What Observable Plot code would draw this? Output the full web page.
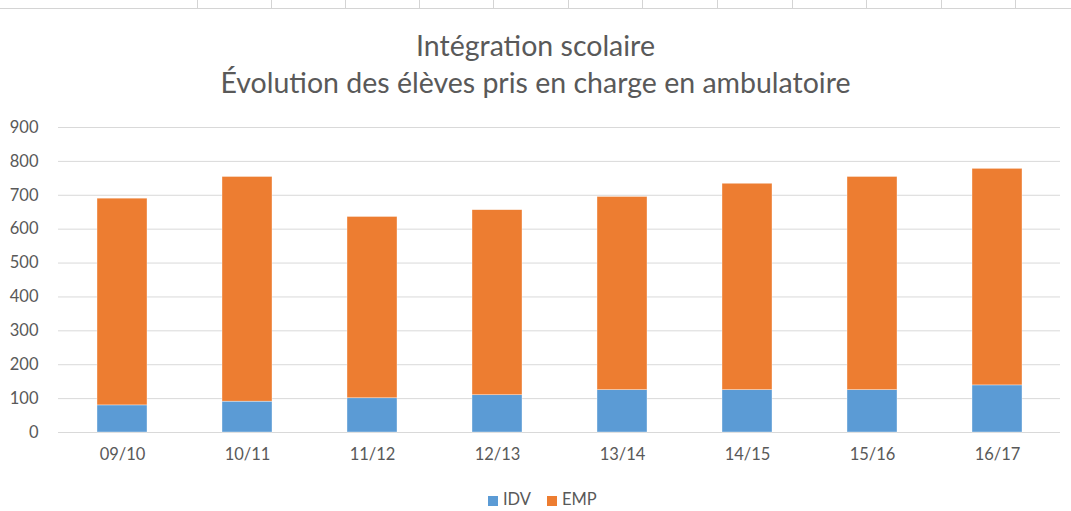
<!DOCTYPE html>
<html><head><meta charset="utf-8">
<script src="https://cdn.jsdelivr.net/npm/d3@7"></script>
<script src="https://cdn.jsdelivr.net/npm/@observablehq/plot@0.6"></script>
<style>
body{margin:0;background:#fff;font-family:Lato,"Open Sans",sans-serif;}
#wrap{position:relative;width:1071px;height:511px;overflow:hidden;}
#strip{position:absolute;left:0;top:0;width:1071px;height:8px;border-bottom:1px solid #d4d4d4;}
.vl{position:absolute;top:0;width:1px;height:8px;background:#d4d4d4;}
#title{position:absolute;left:0;top:27px;width:1071px;text-align:center;color:#595959;font-size:28.5px;line-height:37px;}
#chart{position:absolute;left:0;top:100px;}
#legend{position:absolute;top:489px;left:0;width:1071px;height:22px;font-size:16.5px;color:#595959;}
.sw{position:absolute;width:10px;height:10px;top:7px;}
.lt{position:absolute;top:0px;}
</style></head>
<body><div id="wrap">
<div id="strip"></div>
<div id="title">Intégration scolaire<br>Évolution des élèves pris en charge en ambulatoire</div>
<div id="chart"></div>
<div id="legend">
<div class="sw" style="left:488px;background:#5B9BD5"></div><div class="lt" style="left:503px">IDV</div>
<div class="sw" style="left:547px;background:#ED7D31"></div><div class="lt" style="left:562px">EMP</div>
</div>
</div>
<script>
const years = ["09/10","10/11","11/12","12/13","13/14","14/15","15/16","16/17"];
const idv = [80, 91, 101, 110, 125, 125, 125, 139];
const emp = [610, 663, 535, 546, 570, 609, 629, 639];
const seriesNames = ["IDV","EMP"];
const seriesColors = ["#5B9BD5","#ED7D31"];
const yTicks = [0,100,200,300,400,500,600,700,800,900];

const strip = document.getElementById("strip");
[197,271,345,419,493,568,642,717,792,866,941,1015].forEach(x=>{
  const d=document.createElement("div");d.className="vl";d.style.left=x+"px";strip.appendChild(d);
});

const rows = [];
years.forEach((y,i)=>{
  rows.push({year:y, series:"IDV", value:idv[i]});
  rows.push({year:y, series:"EMP", value:emp[i]});
});

const chart = Plot.plot({
  width:1071, height:370,
  marginTop:27, marginBottom:38, marginLeft:58, marginRight:11,
  style:{fontFamily:"Lato, 'Open Sans', sans-serif", fontSize:"16.5px", color:"#595959", background:"transparent"},
  x:{domain:years, paddingInner:0.6, paddingOuter:0.3, label:null, tickSize:0, tickPadding:16},
  y:{domain:[0,900], ticks:yTicks, label:null, tickSize:0, tickPadding:20, tickFormat:d3.format("d")},
  color:{domain:seriesNames, range:seriesColors},
  marks:[
    Plot.ruleY(yTicks,{stroke:"#d9d9d9", strokeWidth:1}),
    Plot.barY(rows,{x:"year", y:"value", fill:"series", order:seriesNames, stroke:"#fff", strokeWidth:0.6, strokeOpacity:0.6})
  ]
});
document.getElementById("chart").appendChild(chart);
</script>
</body></html>
